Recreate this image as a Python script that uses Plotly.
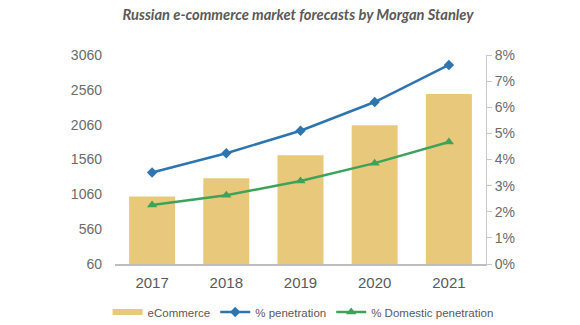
import plotly.graph_objects as go

years = ["2017", "2018", "2019", "2020", "2021"]
ecommerce = [1030, 1290, 1620, 2050, 2500]
penetration = [3.5, 4.24, 5.1, 6.2, 7.62]
domestic_penetration = [2.26, 2.63, 3.18, 3.86, 4.67]
left_ticks = [60, 560, 1060, 1560, 2060, 2560, 3060]
right_ticks = [0, 1, 2, 3, 4, 5, 6, 7, 8]

bar_color = "#E8C97C"
blue = "#2E75B0"
green = "#3DA35A"
gray = "#6b6b6b"

fig = go.Figure()
fig.add_trace(go.Bar(x=years, y=[v - 60 for v in ecommerce], base=60, name="eCommerce",
                     marker=dict(color=bar_color, line=dict(width=0)), hoverinfo="skip",
                     showlegend=False))
# legend proxy for the bar series (flat wide swatch like the reference)
fig.add_trace(go.Scatter(x=[None], y=[None], name="eCommerce", mode="lines",
                         line=dict(color=bar_color, width=6)))
fig.add_trace(go.Scatter(x=years, y=penetration, name="% penetration", yaxis="y2",
                         mode="lines+markers", line=dict(color=blue, width=2.5),
                         marker=dict(symbol="diamond", size=8, color=blue)))
fig.add_trace(go.Scatter(x=years, y=domestic_penetration, name="% Domestic penetration", yaxis="y2",
                         mode="lines+markers", line=dict(color=green, width=2.5),
                         marker=dict(symbol="triangle-up", size=9, color=green)))

fig.update_layout(
    width=580, height=325,
    margin=dict(l=115, r=94, t=55, b=61, autoexpand=False),
    paper_bgcolor="white", plot_bgcolor="white",
    bargap=0.38,
    font=dict(family="Liberation Sans, Arial, sans-serif", color=gray),
    title=dict(text="<b><i>Russian e-commerce market forecasts by Morgan Stanley</i></b>",
               font=dict(family="Lato", size=14.7, color="#5a5a5a"),
               x=298/580, xanchor="center", xref="container",
               y=1 - 15/325, yanchor="middle", yref="container"),
    xaxis=dict(showgrid=False, showline=True, linecolor="#bdbdbd", linewidth=1.5,
               ticks="", ticklabelstandoff=4, tickfont=dict(size=15, color="#595959")),
    yaxis=dict(range=[60, 3060], tickvals=left_ticks, showgrid=False, zeroline=False,
               showline=False, ticks="", ticklabelstandoff=12,
               tickfont=dict(size=14, color="#6b6b6b")),
    yaxis2=dict(range=[0, 8], tickvals=right_ticks, ticktext=[f"{t}%" for t in right_ticks],
                overlaying="y", side="right", showgrid=False, zeroline=False,
                showline=True, linecolor="#c8c8c8", linewidth=1, ticks="outside",
                ticklen=5, tickcolor="#c8c8c8", tickfont=dict(size=14, color="#6b6b6b")),
    legend=dict(orientation="h", x=-0.02, xanchor="left",
                y=-0.23, yanchor="middle",
                font=dict(size=11.5, color="#595959"), itemwidth=30, tracegroupgap=0),
    showlegend=True,
)

fig.write_html("out.html")
